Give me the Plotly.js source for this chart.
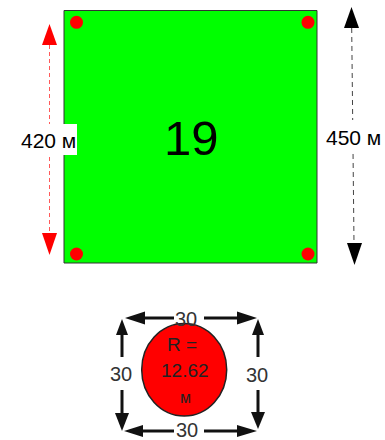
<!DOCTYPE html>
<html>
<head>
<meta charset="utf-8">
<script src="https://cdn.plot.ly/plotly-3.0.1.min.js"></script>
<style>html,body{margin:0;padding:0;background:#fff;}#chart{width:385px;height:440px;}</style>
</head>
<body>
<div id="chart"></div>
<script>
// ---- data ----
const plotNumber = ["19"];
const sideLengths = [420, 450];
const unitLabel = "м";
const spacingValues = [30, 30, 30, 30]; // top, bottom, left, right
const circleRadius = [12.62];
const cornerPointsX = [76.5, 308, 76.5, 308];
const cornerPointsY = [22.3, 22.3, 254, 254];

// ---- geometry (pixel-aligned axes) ----
const FONT = "Liberation Sans, Arial, sans-serif";
const shapes = [];
function rect(x0, y0, x1, y1, fill, line) {
  shapes.push({type: "rect", xref: "x", yref: "y", x0, y0, x1, y1, fillcolor: fill,
    line: line || {width: 0}});
}
function poly(pts, fill) {
  const d = "M" + pts.map(p => p[0] + "," + p[1]).join(" L") + " Z";
  shapes.push({type: "path", xref: "x", yref: "y", path: d, fillcolor: fill, line: {width: 0}});
}
function seg(x0, y0, x1, y1, color, width, dash) {
  shapes.push({type: "line", xref: "x", yref: "y", x0, y0, x1, y1,
    line: {color, width, dash: dash || "solid"}});
}

// main plot square
rect(64, 10.5, 317, 263, "#00ff00", {color: "#333", width: 1});
// corner points
cornerPointsX.forEach((cx, i) => {
  const cy = cornerPointsY[i], r = 6.5;
  shapes.push({type: "circle", xref: "x", yref: "y", x0: cx - r, x1: cx + r, y0: cy - r, y1: cy + r,
    fillcolor: "#ff0000", line: {width: 0}});
});
// left red dimension
seg(49.5, 45, 49.5, 233, "#ff5a5a", 1, "4px,3px");
poly([[42, 45], [49.5, 24], [57, 45]], "#ff0000");
poly([[42, 233], [49.5, 255], [57, 233]], "#ff0000");
rect(20, 124, 77, 155, "#ffffff");
// right black dimension
seg(351.7, 28, 354, 243, "#444", 1, "5px,4px");
poly([[344, 28], [351.5, 7], [359, 28]], "#000000");
poly([[347, 243], [354.5, 265], [362, 243]], "#000000");
rect(326, 120, 382, 152, "#ffffff");

// bottom scheme: circle
shapes.push({type: "circle", xref: "x", yref: "y", x0: 141.7, x1: 226.7, y0: 323.5, y1: 416,
  fillcolor: "#ff0000", line: {color: "#222", width: 1.5}});
const AC = "#111";
// top
seg(145, 318, 174, 318, AC, 3); seg(204, 318, 237, 318, AC, 3);
poly([[145, 311.5], [125, 318], [145, 324.5]], AC);
poly([[237, 311.5], [257, 318], [237, 324.5]], AC);
// bottom
seg(143, 431, 174, 431, AC, 3); seg(204, 431, 237, 431, AC, 3);
poly([[143, 425], [124, 431], [143, 437]], AC);
poly([[237, 425], [257, 431], [237, 437]], AC);
// left
seg(122, 335, 122, 357, AC, 3); seg(122, 390, 122, 413, AC, 3);
poly([[116, 335], [122, 319], [128, 335]], AC);
poly([[115, 413], [122, 431], [129, 413]], AC);
// right
seg(258, 335, 258, 357, AC, 3); seg(258, 390, 258, 412, AC, 3);
poly([[252, 335], [258, 319], [264, 335]], AC);
poly([[251, 412], [258, 429], [265, 412]], AC);

// ---- annotations ----
function ann(text, x, y, size, color) {
  return {text, x, y, xref: "x", yref: "y", showarrow: false, xanchor: "center", yanchor: "middle",
    font: {family: FONT, size, color: color || "#000"}};
}
const annotations = [
  ann(plotNumber[0], 191, 138, 49),
  ann(sideLengths[0] + " " + unitLabel, 48.5, 140, 21),
  ann(sideLengths[1] + " " + unitLabel, 353, 137, 21),
  ann(String(spacingValues[0]), 186, 319, 20, "#333"),
  ann(String(spacingValues[1]), 187, 430, 20, "#333"),
  ann(String(spacingValues[2]), 120.5, 374, 20, "#333"),
  ann(String(spacingValues[3]), 257, 375, 20, "#333"),
  ann("R =", 182, 344, 19, "#222"),
  ann(circleRadius[0].toFixed(2), 185, 370, 19, "#222"),
  ann(unitLabel, 185, 397, 16, "#222")
];

const layout = {
  width: 385, height: 440,
  margin: {l: 0, r: 0, t: 0, b: 0, pad: 0},
  paper_bgcolor: "#ffffff", plot_bgcolor: "#ffffff",
  xaxis: {range: [0, 385], visible: false, fixedrange: true},
  yaxis: {range: [440, 0], visible: false, fixedrange: true},
  showlegend: false,
  shapes, annotations
};
Plotly.newPlot("chart", [{x: cornerPointsX, y: cornerPointsY, type: "scatter", mode: "markers",
  marker: {size: 13, color: "#ff0000"}, hoverinfo: "skip"}], layout, {staticPlot: true, displayModeBar: false});
</script>
</body>
</html>
